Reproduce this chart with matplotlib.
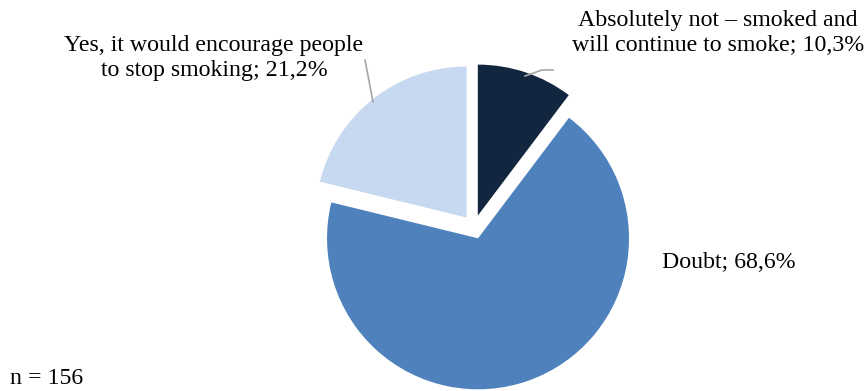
import matplotlib.pyplot as plt

categories = ["Absolutely not \u2013 smoked and\nwill continue to smoke",
              "Doubt",
              "Yes, it would encourage people\nto stop smoking"]
shares = [10.3, 68.6, 21.2]
colors = ["#12263f", "#4f81bd", "#c6d9f0"]
n_total = 156

plt.rcParams['font.family'] = ['Liberation Serif', 'DejaVu Serif']

W, H = 867, 391
fig = plt.figure(figsize=(W / 100, H / 100), dpi=100)
ax = fig.add_axes([0, 0, 1, 1])

# pie in pixel-like coordinates (y up); explode is in the same units
cx, cy, r = 474, H - 227, 151
ax.pie(shares, colors=colors, startangle=90, counterclock=False,
       explode=[12, 12, 12], center=(cx, cy), radius=r,
       wedgeprops=dict(linewidth=0))
ax.set_xlim(0, W)
ax.set_ylim(0, H)
ax.set_aspect('equal')
ax.axis('off')

def lbl(i):
    return "%s; %s%%" % (categories[i], ("%.1f" % shares[i]).replace('.', ','))

fs = 17.2
ax.text(718, H - 33, lbl(0), ha='center', va='center', fontsize=fs,
        linespacing=1.3, multialignment='center')
ax.text(662, H - 262, lbl(1), ha='left', va='center', fontsize=fs)
ax.text(214, H - 58, lbl(2), ha='center', va='center', fontsize=fs,
        linespacing=1.3, multialignment='center')
ax.text(10, H - 379, "n = %d" % n_total, ha='left', va='center', fontsize=fs)

# leader lines
ax.plot([525, 542, 553], [H - 76, H - 70, H - 70], color='#a6a6a6', lw=1.2)
ax.plot([365, 373], [H - 60, H - 102], color='#a6a6a6', lw=1.2)

fig.savefig("out.png", dpi=100)
